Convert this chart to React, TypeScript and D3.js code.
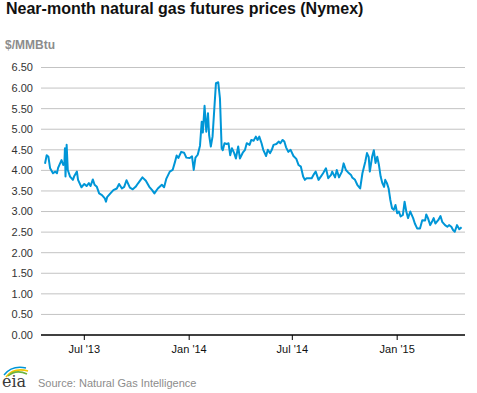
import React, { useEffect, useRef } from 'react';
import * as d3 from 'd3';

// Near-month Nymex natural gas futures, $/MMBtu
const dates = [
  "2013-04-23","2013-04-26","2013-04-29","2013-05-02","2013-05-07","2013-05-11","2013-05-14","2013-05-16","2013-05-22","2013-05-25",
  "2013-05-27","2013-05-28","2013-05-29","2013-05-31","2013-06-02","2013-06-06","2013-06-11","2013-06-13","2013-06-18","2013-06-20",
  "2013-06-26","2013-07-01","2013-07-05","2013-07-09","2013-07-12","2013-07-16","2013-07-19","2013-07-23","2013-07-27","2013-08-01",
  "2013-08-06","2013-08-08","2013-08-10","2013-08-15","2013-08-21","2013-08-27","2013-08-31","2013-09-05","2013-09-09","2013-09-13",
  "2013-09-19","2013-09-24","2013-09-29","2013-10-03","2013-10-11","2013-10-17","2013-10-23","2013-10-28","2013-11-01","2013-11-07",
  "2013-11-14","2013-11-18","2013-11-22","2013-11-28","2013-12-03","2013-12-07","2013-12-10","2013-12-13","2013-12-18","2013-12-23",
  "2013-12-27","2014-01-02","2014-01-06","2014-01-09","2014-01-12","2014-01-16","2014-01-20","2014-01-23","2014-01-25","2014-01-28",
  "2014-01-31","2014-02-03","2014-02-05","2014-02-08","2014-02-11","2014-02-14","2014-02-17","2014-02-21","2014-02-24","2014-02-27",
  "2014-03-01","2014-03-04","2014-03-08","2014-03-11","2014-03-14","2014-03-17","2014-03-21","2014-03-24","2014-03-28","2014-03-31",
  "2014-04-05","2014-04-09","2014-04-12","2014-04-17","2014-04-20","2014-04-24","2014-04-28","2014-05-01","2014-05-04","2014-05-08",
  "2014-05-11","2014-05-16","2014-05-19","2014-05-23","2014-05-26","2014-05-29","2014-06-03","2014-06-07","2014-06-10","2014-06-14",
  "2014-06-17","2014-06-20","2014-06-24","2014-06-28","2014-07-03","2014-07-08","2014-07-12","2014-07-16","2014-07-20","2014-07-23",
  "2014-07-26","2014-07-30","2014-08-04","2014-08-08","2014-08-11","2014-08-16","2014-08-20","2014-08-24","2014-08-29","2014-09-02",
  "2014-09-07","2014-09-09","2014-09-14","2014-09-17","2014-09-21","2014-09-26","2014-09-29","2014-10-03","2014-10-07","2014-10-12",
  "2014-10-14","2014-10-19","2014-10-23","2014-10-28","2014-11-01","2014-11-06","2014-11-09","2014-11-12","2014-11-14","2014-11-18",
  "2014-11-21","2014-11-24","2014-11-27","2014-11-30","2014-12-03","2014-12-06","2014-12-09","2014-12-11","2014-12-14","2014-12-17",
  "2014-12-20","2014-12-23","2014-12-26","2014-12-29","2015-01-01","2015-01-04","2015-01-07","2015-01-11","2015-01-14","2015-01-17",
  "2015-01-20","2015-01-24","2015-01-29","2015-02-01","2015-02-05","2015-02-10","2015-02-14","2015-02-19","2015-02-21","2015-02-24",
  "2015-02-28","2015-03-03","2015-03-06","2015-03-09","2015-03-14","2015-03-18","2015-03-21","2015-03-26","2015-03-30","2015-04-02",
  "2015-04-06","2015-04-09","2015-04-12","2015-04-16","2015-04-20","2015-04-24"
];

const prices = [
  4.16, 4.37, 4.33, 4.05, 3.93, 3.97, 3.93, 4.06, 4.25, 4.13,
  4.15, 4.54, 3.85, 4.62, 4.01, 3.85, 3.77, 3.85, 3.97, 3.77,
  3.59, 3.67, 3.62, 3.69, 3.62, 3.78, 3.65, 3.60, 3.44, 3.40,
  3.32, 3.24, 3.35, 3.43, 3.52, 3.56, 3.67, 3.56, 3.60, 3.76,
  3.58, 3.54, 3.60, 3.68, 3.83, 3.75, 3.60, 3.52, 3.44, 3.56,
  3.65, 3.59, 3.80, 3.97, 4.01, 4.20, 4.36, 4.30, 4.45, 4.43,
  4.31, 4.30, 4.34, 4.01, 4.31, 4.38, 4.60, 5.18, 4.92, 5.57,
  4.94, 5.39, 4.86, 4.58, 4.82, 5.47, 6.12, 6.14, 5.75, 4.54,
  4.49, 4.66, 4.64, 4.66, 4.37, 4.54, 4.42, 4.29, 4.58, 4.29,
  4.43, 4.50, 4.66, 4.62, 4.74, 4.72, 4.82, 4.74, 4.82, 4.66,
  4.50, 4.35, 4.50, 4.42, 4.50, 4.62, 4.64, 4.70, 4.66, 4.74,
  4.70, 4.56, 4.45, 4.50, 4.35, 4.28, 4.13, 4.09, 3.85, 3.77,
  3.81, 3.81, 3.81, 3.91, 3.97, 3.77, 3.85, 3.93, 4.05, 3.81,
  3.89, 3.97, 3.83, 4.01, 3.83, 3.97, 4.17, 4.01, 3.95, 3.89,
  3.83, 3.77, 3.65, 3.56, 3.93, 4.21, 4.42, 4.33, 3.97, 4.33,
  4.49, 4.18, 4.33, 4.13, 3.85, 3.69, 3.60, 3.77, 3.69, 3.56,
  3.28, 3.08, 3.04, 3.16, 2.96, 3.00, 2.88, 2.92, 3.24, 3.00,
  2.84, 3.00, 2.84, 2.71, 2.59, 2.59, 2.79, 2.78, 2.93, 2.84,
  2.67, 2.75, 2.84, 2.71, 2.79, 2.89, 2.75, 2.67, 2.63, 2.67,
  2.63, 2.55, 2.51, 2.67, 2.57, 2.62
];

const xDomain = ["2013-04-16", "2015-04-30"];
const xTickDates = ["2013-07-01", "2014-01-01", "2014-07-01", "2015-01-01"];
const xTickLabels = ["Jul '13", "Jan '14", "Jul '14", "Jan '15"];
const yTicks = [0, 0.5, 1, 1.5, 2, 2.5, 3, 3.5, 4, 4.5, 5, 5.5, 6, 6.5];

const W = 477;
const H = 393;

export default function App() {
  const svgRef = useRef<SVGSVGElement>(null);

  useEffect(() => {
    document.body.style.margin = "0";
    if (!svgRef.current) return;
    const svg = d3.select(svgRef.current);
    svg.selectAll("*").remove();

    const parse = d3.timeParse("%Y-%m-%d");
    const data = dates.map((d, i) => ({ date: parse(d) as Date, value: prices[i] }));

    const left = 41, right = 465, top = 67.5, bottom = 335;
    const font = "Arial, 'Liberation Sans', sans-serif";

    const x = d3.scaleTime()
      .domain(xDomain.map(d => parse(d) as Date))
      .range([left, right]);
    const y = d3.scaleLinear().domain([0, 6.5]).range([bottom, top]);

    // title
    svg.append("text")
      .attr("x", 6).attr("y", 14)
      .style("font-family", font).style("font-size", "16px").style("font-weight", "bold")
      .style("fill", "#111")
      .text("Near-month natural gas futures prices (Nymex)");

    svg.append("text")
      .attr("x", 5).attr("y", 49)
      .style("font-family", font).style("font-size", "12px").style("font-weight", "bold")
      .style("fill", "#8c8c8c")
      .text("$/MMBtu");

    // gridlines + y labels
    svg.append("g").selectAll("line")
      .data(yTicks.filter(t => t > 0))
      .enter().append("line")
      .attr("x1", left).attr("x2", right)
      .attr("y1", d => y(d)).attr("y2", d => y(d))
      .style("stroke", "#c3c3c3").style("stroke-width", 1);

    svg.append("g").selectAll("text")
      .data(yTicks)
      .enter().append("text")
      .attr("x", 33).attr("y", d => y(d)).attr("dy", "0.35em")
      .style("text-anchor", "end")
      .style("font-family", font).style("font-size", "11px")
      .style("fill", "#333")
      .text(d => d3.format(".2f")(d));

    // x axis
    svg.append("line")
      .attr("x1", left).attr("x2", right)
      .attr("y1", y(0)).attr("y2", y(0))
      .style("stroke", "#000").style("stroke-width", 1.5);

    const xt = svg.append("g").selectAll("g")
      .data(xTickDates.map((d, i) => ({ date: parse(d) as Date, label: xTickLabels[i] })))
      .enter().append("g")
      .attr("transform", d => `translate(${x(d.date)},${y(0)})`);
    xt.append("line").attr("y1", 0).attr("y2", 5).style("stroke", "#000").style("stroke-width", 1);
    xt.append("text")
      .attr("y", 14).attr("dy", "0.35em")
      .style("text-anchor", "middle")
      .style("font-family", font).style("font-size", "11px")
      .style("fill", "#111")
      .text(d => d.label);

    // price line
    const line = d3.line<{ date: Date; value: number }>()
      .x(d => x(d.date))
      .y(d => y(d.value));

    svg.append("path")
      .datum(data)
      .attr("d", line)
      .style("fill", "none")
      .style("stroke", "#0096d7")
      .style("stroke-width", 2)
      .style("stroke-linejoin", "round");

    // eia logo
    const logo = svg.append("g").attr("transform", "translate(2,366)");
    logo.append("path").attr("d", "M4,11 Q12,1 26,5").style("fill", "none").style("stroke", "#f2c500").style("stroke-width", 1.6);
    logo.append("path").attr("d", "M6,10 Q14,3 25,8").style("fill", "none").style("stroke", "#6cb33f").style("stroke-width", 1.6);
    logo.append("path").attr("d", "M2,9 Q10,-1 24,2").style("fill", "none").style("stroke", "#0096d7").style("stroke-width", 1.4);
    logo.append("text")
      .attr("x", 0).attr("y", 21)
      .style("font-family", "'DejaVu Serif', serif").style("font-size", "16px")
      .style("fill", "#3a3a3a")
      .text("eia");

    svg.append("text")
      .attr("x", 38).attr("y", 387)
      .style("font-family", font).style("font-size", "11px")
      .style("fill", "#8c8c8c")
      .text("Source: Natural Gas Intelligence");
  }, []);

  return <svg ref={svgRef} width={W} height={H} style={{ display: "block", background: "#fff" }} />;
}
